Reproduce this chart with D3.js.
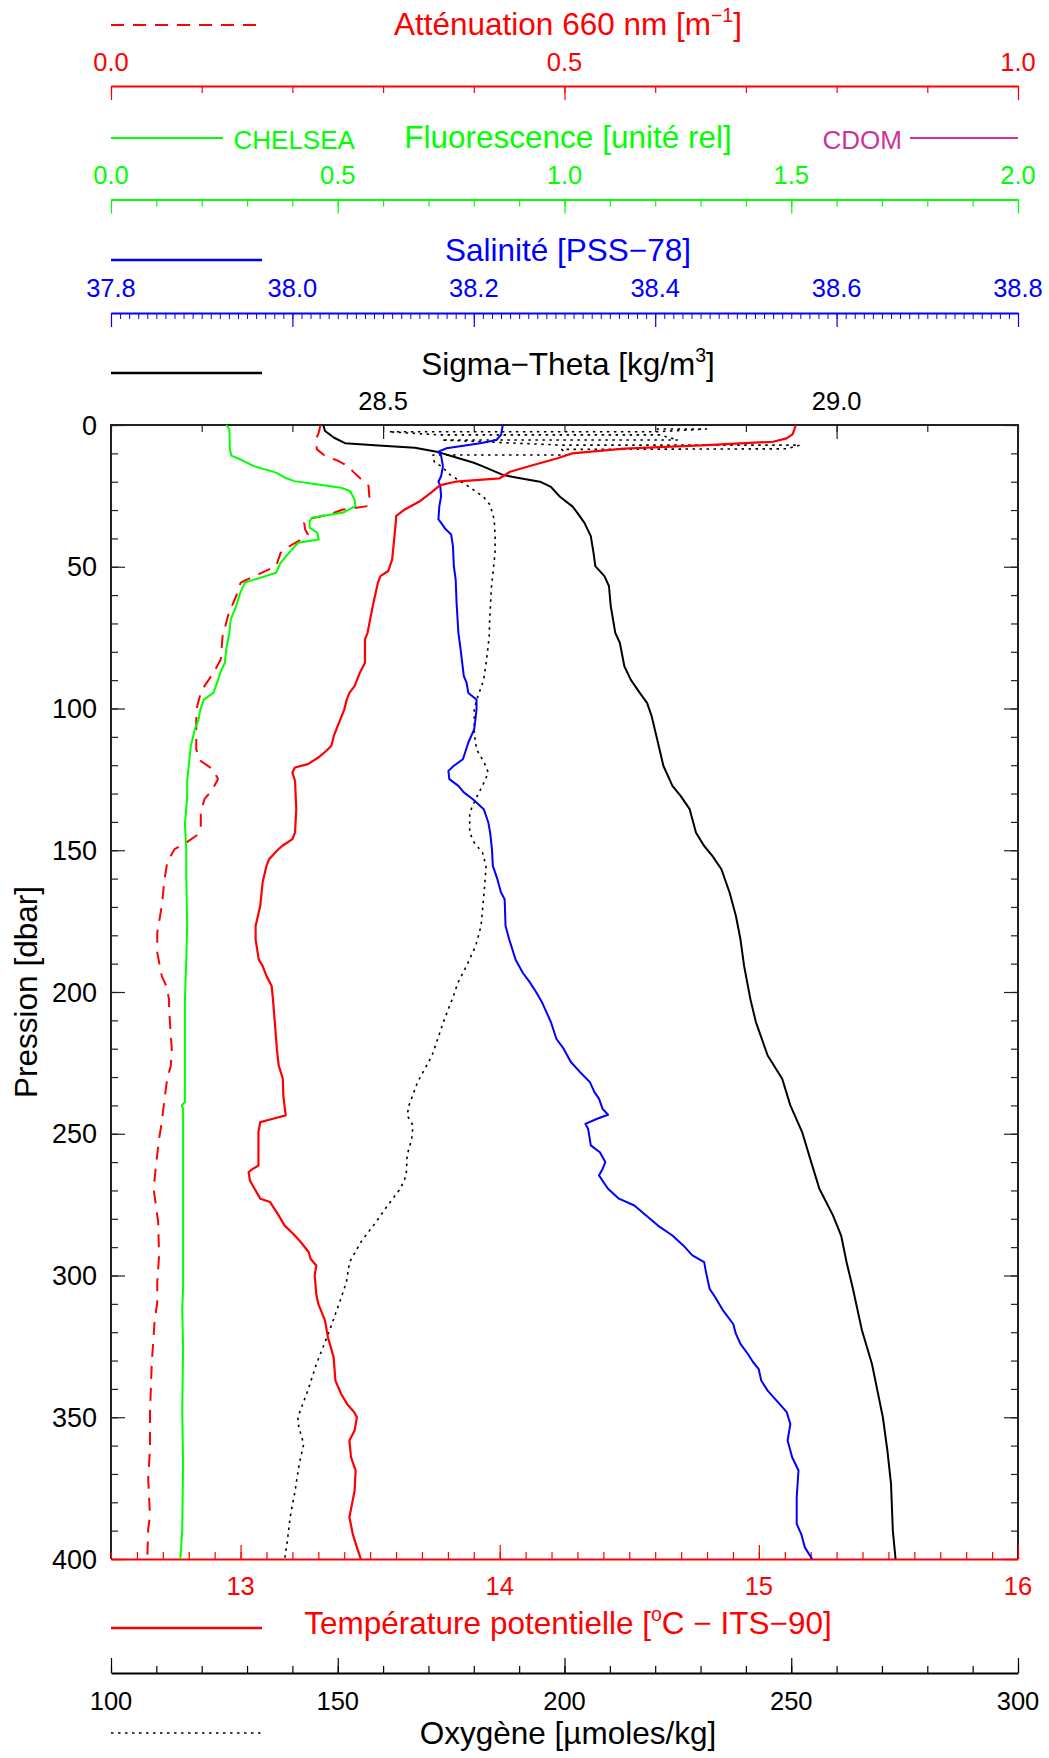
<!DOCTYPE html>
<html><head><meta charset="utf-8">
<script src="https://cdn.jsdelivr.net/npm/d3@7"></script>
<style>
body{margin:0;background:#fff}
svg{display:block;background:#fff}
text{font-family:"Liberation Sans",Arial,Helvetica,sans-serif}
</style>
</head><body>
<svg id="chart" width="1049" height="1758"></svg>
<script>
// ---------------- DATA (pressure [dbar], value) ----------------
const temperature = [[0,15.143],[3.3,15.13],[4.7,15.107],[5.9,15.055],[7.1,14.80],[8.3,14.48],[10,14.28],[11.8,14.22],[14.1,14.13],[16.5,14.04],[18.8,14.00],[20,13.83],[21.2,13.77],[23.5,13.74],[27,13.69],[30,13.63],[32.1,13.60],[33.3,13.60],[42.7,13.59],[47.4,13.585],[51.5,13.57],[53.3,13.54],[55.6,13.53],[63.9,13.51],[73.3,13.49],[75.6,13.48],[83.9,13.48],[87.4,13.46],[92.1,13.44],[94.5,13.42],[96.8,13.41],[100.4,13.40],[107.3,13.37],[109.6,13.36],[113.2,13.35],[115.0,13.33],[117.3,13.30],[119.6,13.26],[120.8,13.21],[122.6,13.20],[125.5,13.21],[135.5,13.215],[143.8,13.21],[146.1,13.20],[148.5,13.16],[150.2,13.14],[153.2,13.11],[155.5,13.10],[161.4,13.085],[169.6,13.076],[176.7,13.058],[181.4,13.058],[188.5,13.07],[190.8,13.085],[194.4,13.10],[197.9,13.12],[202.6,13.125],[208.2,13.13],[220,13.14],[225.9,13.147],[230.6,13.163],[236.5,13.165],[243.5,13.174],[244.7,13.125],[245.9,13.076],[249.4,13.069],[261.2,13.069],[262.4,13.047],[263.5,13.031],[266.5,13.036],[269.4,13.054],[272.9,13.076],[274.1,13.114],[278.8,13.147],[282.4,13.17],[285.3,13.203],[288.2,13.232],[291.8,13.263],[294.1,13.27],[296.5,13.292],[300,13.286],[306.5,13.292],[310,13.30],[315.9,13.326],[321.8,13.337],[328.8,13.359],[337.1,13.366],[341.8,13.388],[345.3,13.411],[348.2,13.438],[350,13.449],[354.7,13.44],[358.2,13.42],[364.1,13.426],[368.8,13.444],[375.9,13.44],[385.3,13.42],[391.2,13.433],[395.9,13.449],[400,13.464]];

const salinity = [[0,38.232],[3.5,38.230],[5.3,38.225],[6.4,38.207],[8.2,38.170],[9.4,38.161],[10.9,38.164],[14.6,38.166],[18.0,38.164],[20,38.161],[21.5,38.163],[25.1,38.164],[28.6,38.162],[33.3,38.161],[34.5,38.164],[36.8,38.169],[38.6,38.175],[42.7,38.177],[49.8,38.178],[54.5,38.180],[62.7,38.181],[73.3,38.183],[78,38.185],[88.6,38.189],[90.9,38.192],[94.5,38.194],[96.8,38.203],[100.4,38.203],[107.3,38.2005],[112.0,38.194],[117.9,38.188],[120.2,38.178],[122.0,38.172],[124.9,38.173],[127.3,38.183],[129.6,38.189],[132.0,38.199],[135.5,38.211],[140.2,38.216],[143.8,38.218],[149.6,38.220],[155.5,38.221],[160.2,38.226],[164.9,38.230],[167.3,38.234],[176.7,38.235],[181.4,38.239],[188.5,38.246],[193.2,38.254],[196.7,38.262],[200.2,38.269],[203.5,38.275],[210.6,38.285],[216.5,38.291],[220,38.299],[224.7,38.307],[228.2,38.317],[231.8,38.328],[235.3,38.333],[237.6,38.338],[241.2,38.342],[243.3,38.348],[244.7,38.336],[246.5,38.323],[248.2,38.326],[254.1,38.329],[256.5,38.339],[260,38.345],[262.4,38.342],[264.7,38.338],[269.4,38.348],[272.9,38.360],[275.3,38.377],[278.8,38.390],[282.4,38.403],[285.9,38.419],[289.4,38.431],[292.9,38.441],[295.3,38.454],[298.8,38.456],[304.7,38.460],[307.6,38.466],[312.4,38.475],[317.1,38.486],[320.6,38.489],[324.1,38.494],[327.6,38.502],[330.6,38.508],[332.9,38.514],[337.1,38.517],[340.6,38.524],[345.3,38.537],[348.2,38.545],[352.4,38.549],[358.2,38.546],[364.1,38.551],[368.8,38.558],[378.2,38.556],[387.6,38.556],[391.2,38.561],[395.9,38.565],[400,38.573]];

const sigmaTheta = [[0,28.434],[2.1,28.436],[4.5,28.446],[6.4,28.458],[7.2,28.495],[8.0,28.535],[9.4,28.559],[11.1,28.577],[13.3,28.600],[14.6,28.610],[17.6,28.632],[18.6,28.648],[20,28.673],[21.8,28.685],[25.3,28.695],[28.8,28.709],[30.9,28.714],[34.5,28.722],[39.2,28.729],[45.1,28.732],[49.8,28.734],[53.3,28.744],[56.8,28.749],[63.9,28.751],[73.3,28.756],[76.8,28.761],[85.1,28.766],[89.8,28.773],[94.5,28.783],[98.0,28.791],[102.6,28.796],[112.0,28.803],[120.2,28.809],[127.3,28.819],[130.8,28.828],[135.5,28.838],[143.8,28.845],[148.5,28.854],[152.0,28.863],[156.7,28.873],[164.9,28.882],[173.2,28.889],[181.4,28.894],[190.8,28.898],[202.6,28.905],[210.6,28.911],[222.4,28.924],[230.6,28.940],[240,28.949],[249.4,28.962],[260,28.972],[269.4,28.981],[278.8,28.996],[285.9,29.005],[295.3,29.011],[304.7,29.018],[319.4,29.028],[331.2,29.039],[340.6,29.045],[350,29.051],[361.8,29.056],[373.5,29.060],[390,29.062],[400,29.065]];

const oxygen = [[1.4,220.3],[1.4,231.3],[2.4,220.0],[2.4,161.2],[3.5,172.5],[3.5,221.0],[5.3,225.0],[5.3,172.9],[7.1,199.4],[7.1,251.9],[8.4,249.0],[8.6,199.4],[10.6,200.5],[10.6,171.0],[11.5,170.9],[13.3,171.4],[14.5,172.8],[17.6,174.8],[21.2,178.4],[25.3,182.1],[28.2,183.6],[33.3,184.5],[39.2,184.7],[45,184.7],[51,184.3],[57,183.9],[62.7,183.7],[68.6,183.5],[74.5,183.4],[80.4,183.0],[86.2,182.5],[89.8,182.2],[92.1,181.7],[95.7,180.9],[100,180.1],[108.5,180.1],[114.4,180.6],[119.1,182.3],[122.6,183.2],[127.3,181.9],[132,180.4],[136.7,179.1],[143.8,179.1],[147.3,180.1],[150.8,181.9],[155.5,182.7],[162.6,182.4],[169.6,182.0],[176.7,181.6],[183.8,180.4],[190.8,178.4],[196.7,176.5],[201.4,175.5],[210.6,173.3],[222.4,170.8],[231.8,167.6],[240,165.7],[243.5,165.3],[247.1,166.6],[251.8,166.3],[257.6,165.3],[264.7,165.1],[269.4,163.8],[275.3,161.0],[281.2,158.4],[288.2,155.1],[295.3,152.6],[302.4,151.9],[307.6,150.8],[319.4,148.2],[331.2,145.3],[340.6,143.4],[350,141.2],[353.5,141.4],[359.4,142.5],[366.5,141.5],[375.9,140.6],[385.3,139.5],[393.5,138.9],[400,138.3]];

const fluorescence = [[0,0.254],[1.5,0.261],[8.6,0.262],[10.9,0.266],[12.1,0.285],[14.5,0.315],[16.8,0.364],[18.6,0.384],[19.8,0.404],[20.9,0.453],[22.1,0.507],[23.3,0.527],[26.2,0.537],[28.6,0.539],[30.9,0.512],[32.7,0.443],[33.9,0.438],[36.2,0.438],[38.0,0.455],[40.4,0.458],[41.5,0.413],[43.9,0.399],[48.6,0.374],[52.1,0.364],[55.6,0.295],[59.2,0.285],[63.9,0.276],[68.6,0.264],[73.3,0.261],[79.2,0.254],[83.9,0.251],[87.4,0.241],[90.9,0.234],[94.5,0.226],[96.8,0.205],[100.4,0.197],[103.9,0.193],[107.3,0.185],[113.2,0.176],[125.5,0.168],[131.4,0.168],[140.8,0.163],[150,0.166],[160,0.166],[176.7,0.168],[188.5,0.166],[202.6,0.163],[223.5,0.163],[238.8,0.163],[240,0.156],[241.2,0.159],[257.6,0.159],[281.2,0.159],[304.7,0.159],[311.8,0.157],[325.3,0.159],[347.6,0.157],[366.5,0.159],[390,0.157],[400,0.153]];

const attenuation = [[0,0.231],[2.7,0.229],[5.1,0.226],[8.6,0.227],[10.9,0.236],[12.7,0.251],[14.5,0.261],[16.8,0.268],[19.2,0.276],[21.5,0.284],[26.2,0.285],[28.6,0.283],[29.8,0.256],[31.5,0.241],[33.1,0.219],[34.5,0.213],[36.8,0.214],[38.6,0.217],[40.9,0.207],[42.7,0.197],[45.1,0.187],[49.8,0.182],[53.3,0.158],[55.6,0.143],[60.4,0.138],[66.2,0.130],[74.5,0.123],[82.7,0.121],[87.4,0.113],[92.1,0.103],[95.7,0.098],[99.2,0.095],[104,0.094],[114.4,0.094],[118.5,0.099],[121.4,0.112],[124.9,0.118],[128.5,0.112],[132,0.103],[136.7,0.099],[141.4,0.099],[144.4,0.096],[147.3,0.083],[149.6,0.070],[154.4,0.062],[160.2,0.059],[169.6,0.056],[179.1,0.051],[186.1,0.051],[194.4,0.056],[197.9,0.061],[202.6,0.064],[206,0.064],[220,0.067],[225.9,0.066],[230.6,0.062],[237.6,0.059],[245.9,0.056],[251.8,0.053],[260,0.050],[269.4,0.047],[274.1,0.049],[281.2,0.052],[292.9,0.053],[302.4,0.051],[309.4,0.051],[316.5,0.048],[330.6,0.045],[348.2,0.043],[361.2,0.043],[371.8,0.041],[384.7,0.043],[389.4,0.041],[400,0.040]];

// tick label values
const attenuationLabels = [0.0, 0.5, 1.0];
const fluorescenceLabels = [0.0, 0.5, 1.0, 1.5, 2.0];
const salinityLabels = [37.8, 38.0, 38.2, 38.4, 38.6, 38.8];
const sigmaLabels = [28.5, 29.0];
const pressureLabels = [0, 50, 100, 150, 200, 250, 300, 350, 400];
const temperatureLabels = [13, 14, 15, 16];
const oxygenLabels = [100, 150, 200, 250, 300];

// ---------------- LAYOUT ----------------
const L = 111, R = 1018, T = 425, B = 1559;
const RED = "#ff0000", GREEN = "#00ff00", BLUE = "#0000ff", CDOM = "#cc3399", BLACK = "#000000";

const svg = d3.select("#chart");
svg.append("rect").attr("width",1049).attr("height",1758).attr("fill","#fff");

const y = d3.scaleLinear().domain([0,400]).range([T,B]);
const xTemp = d3.scaleLinear().domain([12.5,16]).range([L,R]);
const xSal = d3.scaleLinear().domain([37.8,38.8]).range([L,R]);
const xSig = d3.scaleLinear().domain([28.2,29.2]).range([L,R]);
const xOxy = d3.scaleLinear().domain([100,300]).range([L,R]);
const xFlu = d3.scaleLinear().domain([0,2]).range([L,R]);
const xAtt = d3.scaleLinear().domain([0,1]).range([L,R]);

const steps = (a,b,s) => d3.range(0, Math.round((b-a)/s)+1).map(i => +(a+i*s).toFixed(4));

function axisTicks(axisFn, scale, values, size, color, width, tx, ty, domain) {
  const g = svg.append("g").attr("transform",`translate(${tx},${ty})`)
    .call(axisFn(scale).tickValues(values).tickSize(size).tickSizeOuter(0).tickFormat(""));
  g.selectAll(".tick line").attr("stroke",color).attr("stroke-width",width);
  if (domain) g.select(".domain").attr("stroke",color).attr("stroke-width",domain);
  else g.select(".domain").remove();
  return g;
}
function labels(scale, values, yy, color, fmt, size) {
  svg.append("g").selectAll("text").data(values).join("text")
    .attr("x", d => scale(d)).attr("y", yy)
    .attr("text-anchor","middle").attr("font-size", size || 25.5)
    .attr("fill", color).text(fmt);
}
function legendLine(x1,x2,yy,color,w,dash){
  const l = svg.append("line").attr("x1",x1).attr("x2",x2).attr("y1",yy).attr("y2",yy)
    .attr("stroke",color).attr("stroke-width",w);
  if (dash) l.attr("stroke-dasharray",dash);
}
function title(parts, xx, yy, color, anchor, size){
  const t = svg.append("text").attr("x",xx).attr("y",yy).attr("fill",color)
    .attr("text-anchor",anchor||"middle").attr("font-size",size||31.5);
  parts.forEach(p => {
    const s = t.append("tspan").text(p.t);
    if (p.sup) s.attr("font-size",(size||31.5)*0.62).attr("dy",-13);
    if (p.back) s.attr("dy",13);
  });
}
const f1 = d3.format(".1f");

// ---------- Attenuation (top) ----------
legendLine(L, 262, 25, RED, 2, "13,9");
title([{t:"Atténuation 660 nm [m"},{t:"−1",sup:true},{t:"]",back:true}], 568, 35, RED);
labels(xAtt, attenuationLabels, 71, RED, f1);
axisTicks(d3.axisBottom, xAtt, steps(0,1,0.1), 7, RED, 1.2, 0, 86, 2);
axisTicks(d3.axisBottom, xAtt, attenuationLabels, 14, RED, 1.2, 0, 86, 0);

// ---------- Fluorescence ----------
legendLine(L, 223, 138, GREEN, 2);
legendLine(910, R, 138, CDOM, 2);
svg.append("text").attr("x",233.5).attr("y",149).attr("font-size",26).attr("fill",GREEN).text("CHELSEA");
svg.append("text").attr("x",902).attr("y",149).attr("font-size",26).attr("fill",CDOM).attr("text-anchor","end").text("CDOM");
title([{t:"Fluorescence [unité rel]"}], 568, 148, GREEN);
labels(xFlu, fluorescenceLabels, 184, GREEN, f1);
axisTicks(d3.axisBottom, xFlu, steps(0,2,0.1), 7, GREEN, 1.2, 0, 199.5, 2);
axisTicks(d3.axisBottom, xFlu, fluorescenceLabels, 14, GREEN, 1.2, 0, 199.5, 0);

// ---------- Salinity ----------
legendLine(L, 262, 260, BLUE, 2.5);
title([{t:"Salinité [PSS−78]"}], 568, 261, BLUE);
labels(xSal, salinityLabels, 297, BLUE, f1);
axisTicks(d3.axisBottom, xSal, steps(37.8,38.8,0.01), 6, BLUE, 1, 0, 313, 2);
axisTicks(d3.axisBottom, xSal, salinityLabels, 14, BLUE, 1.2, 0, 313, 0);

// ---------- Sigma-theta ----------
legendLine(L, 262, 373, BLACK, 2.5);
title([{t:"Sigma−Theta [kg/m"},{t:"3",sup:true},{t:"]",back:true}], 568, 375, BLACK);
labels(xSig, sigmaLabels, 410, BLACK, f1);

// ---------- Plot frame ----------
svg.append("path").attr("d",`M${L},${B}V${T}H${R}V${B}`).attr("fill","none").attr("stroke","#222").attr("stroke-width",2);
axisTicks(d3.axisBottom, xSig, steps(28.2,29.2,0.1), 7, "#222", 1.2, 0, T, 0);
axisTicks(d3.axisBottom, xSig, sigmaLabels, 14, "#222", 1.2, 0, T, 0);
axisTicks(d3.axisRight, y, steps(0,400,10), 7, "#222", 1.2, L, 0, 0);
axisTicks(d3.axisRight, y, pressureLabels, 14, "#222", 1.2, L, 0, 0);
axisTicks(d3.axisLeft, y, steps(0,400,10), 7, "#222", 1.2, R, 0, 0);
axisTicks(d3.axisLeft, y, pressureLabels, 14, "#222", 1.2, R, 0, 0);
svg.append("g").selectAll("text").data(pressureLabels).join("text")
  .attr("x", 97).attr("y", d => y(d)).attr("dy","0.36em")
  .attr("text-anchor","end").attr("font-size",27).attr("fill",BLACK).text(d => d);
svg.append("text").attr("transform",`translate(37,${(T+B)/2}) rotate(-90)`)
  .attr("text-anchor","middle").attr("font-size",31.5).attr("fill",BLACK).text("Pression [dbar]");

// ---------- Temperature (bottom) ----------
axisTicks(d3.axisTop, xTemp, steps(12.5,16,0.1), 7, RED, 1.2, 0, B, 2.2);
axisTicks(d3.axisTop, xTemp, temperatureLabels, 14, RED, 1.2, 0, B, 0);
labels(xTemp, temperatureLabels, 1595, RED, d => d);
legendLine(L, 262, 1628, RED, 2.5);
title([{t:"Température potentielle ["},{t:"o",sup:true},{t:"C − ITS−90]",back:true}], 568, 1634, RED);

// ---------- Oxygen ----------
axisTicks(d3.axisTop, xOxy, steps(100,300,10), 7, BLACK, 1.2, 0, 1673, 2);
axisTicks(d3.axisTop, xOxy, oxygenLabels, 15, BLACK, 1.2, 0, 1673, 0);
labels(xOxy, oxygenLabels, 1710, BLACK, d => d);
legendLine(L, 262, 1733, BLACK, 1.6, "2.5,4.5");
title([{t:"Oxygène [µmoles/kg]"}], 568, 1744, BLACK);

// ---------- Profiles ----------
const plot = svg.append("g");
plot.append("defs").append("clipPath").attr("id","clip").append("rect")
  .attr("x",L).attr("y",T-2).attr("width",R-L).attr("height",B-T+4);
function profile(data, xs, color, w, dash){
  const line = d3.line().x(d => xs(d[1])).y(d => y(d[0]));
  const p = plot.append("path").datum(data).attr("d",line).attr("fill","none")
    .attr("stroke",color).attr("stroke-width",w).attr("stroke-linejoin","round")
    .attr("clip-path","url(#clip)");
  if (dash) p.attr("stroke-dasharray",dash);
}
profile(oxygen, xOxy, BLACK, 1.6, "2.5,4.5");
profile(attenuation, xAtt, RED, 2, "13,9");
profile(fluorescence, xFlu, GREEN, 2);
profile(sigmaTheta, xSig, BLACK, 2);
profile(salinity, xSal, BLUE, 2);
profile(temperature, xTemp, RED, 2.2);
</script>
</body></html>
